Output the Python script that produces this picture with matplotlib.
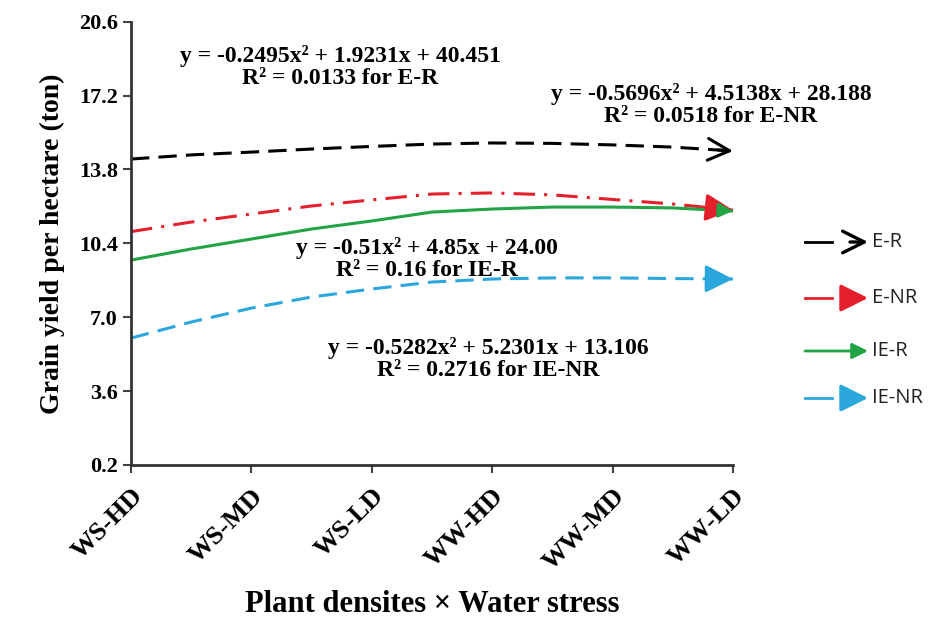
import numpy as np
import matplotlib
import matplotlib.pyplot as plt
from matplotlib.patches import ArrowStyle

matplotlib.use('agg')

# categories on the x axis
categories = ['WS-HD', 'WS-MD', 'WS-LD', 'WW-HD', 'WW-MD', 'WW-LD']
# trend curves every half category
x_pos = [0, 0.5, 1, 1.5, 2, 2.5, 3, 3.5, 4, 4.5, 5]
e_r = [14.28, 14.47, 14.60, 14.74, 14.86, 14.97, 15.02, 15.00, 14.93, 14.83, 14.65]
e_nr = [10.94, 11.38, 11.75, 12.12, 12.40, 12.67, 12.72, 12.63, 12.42, 12.21, 11.93]
ie_r = [9.63, 10.14, 10.60, 11.06, 11.43, 11.84, 11.98, 12.07, 12.07, 12.03, 11.89]
ie_nr = [6.04, 6.78, 7.42, 7.93, 8.30, 8.62, 8.76, 8.81, 8.81, 8.78, 8.76]
y_ticks = [0.2, 3.6, 7.0, 10.4, 13.8, 17.2, 20.6]

series_names = ['E-R', 'E-NR', 'IE-R', 'IE-NR']
equations = [
    'y = -0.2495x\u00b2 + 1.9231x + 40.451\nR\u00b2 = 0.0133 for E-R',
    'y = -0.5696x\u00b2 + 4.5138x + 28.188\nR\u00b2 = 0.0518 for E-NR',
    'y = -0.51x\u00b2 + 4.85x + 24.00\nR\u00b2 = 0.16 for IE-R',
    'y = -0.5282x\u00b2 + 5.2301x + 13.106\nR\u00b2 = 0.2716 for IE-NR',
]

W, H = 934, 619
SERIF = 'Liberation Serif'


def fpx(x, y):
    return (x / W, 1 - y / H)


fig = plt.figure(figsize=(W / 100, H / 100), dpi=100)
ax = fig.add_axes([131 / W, 154 / H, 602 / W, 443.3 / H])

styles = [
    dict(color='black', ls=(0, (6, 3)), head='->', ms=26),
    dict(color='#e3202b', ls=(0, (7, 3, 1, 3)), head='-|>', ms=28),
    dict(color='#22a346', ls='-', head='-|>', ms=14),
    dict(color='#2ba7dd', ls=(0, (6, 3)), head='-|>', ms=28),
]
data = [e_r, e_nr, ie_r, ie_nr]

for vals, st in zip(data, styles):
    x = np.array(x_pos)
    y = np.array(vals)
    ax.plot(x, y, color=st['color'], ls=st['ls'], lw=2.2,
            solid_capstyle='butt', clip_on=False)
    # arrow head at the end of the curve
    dx = x[-1] - x[-2]
    dy = y[-1] - y[-2]
    ax.annotate('', xy=(x[-1], y[-1]), xytext=(x[-1] - 0.25 * dx, y[-1] - 0.25 * dy),
                arrowprops=dict(arrowstyle=ArrowStyle(st['head'], head_length=0.6, head_width=0.3),
                                mutation_scale=st['ms'], color=st['color'],
                                lw=2.2, shrinkA=0, shrinkB=0), annotation_clip=False)

ax.set_xlim(0, 5)
ax.set_ylim(0.2, 20.6)
ax.set_yticks(y_ticks)
ax.set_yticklabels(['%.1f' % v for v in y_ticks], fontfamily=SERIF,
                   fontweight='bold', fontsize=16)
ax.set_xticks(range(len(categories)))
ax.set_xticklabels(categories, rotation=45, ha='right', rotation_mode='anchor',
                   fontfamily=SERIF, fontweight='bold', fontsize=19)
ax.tick_params(axis='both', direction='out', length=6, width=1.5, color='#444444')
ax.tick_params(axis='x', pad=8)
for s in ['top', 'right']:
    ax.spines[s].set_visible(False)
for s in ['left', 'bottom']:
    ax.spines[s].set_linewidth(2)
    ax.spines[s].set_color('#333333')

ax.set_ylabel('Grain yield per hectare (ton)', fontfamily=SERIF,
              fontweight='bold', fontsize=20, labelpad=10)
fig.text(*fpx(432, 604), 'Plant densites \u00d7 Water stress', fontfamily=SERIF,
         fontweight='bold', fontsize=22, ha='center', va='center')

# equation boxes
eq_pos = [(340, 67), (711, 105), (427, 259), (488, 359)]
for (px, py), txt in zip(eq_pos, equations):
    fig.text(*fpx(px, py), txt, fontfamily=SERIF, fontweight='bold', fontsize=17,
             ha='center', va='center', multialignment='center', linespacing=1.12)

# legend drawn by hand with arrows
leg_y = [242, 298, 351, 398]
for name, st, ly in zip(series_names, styles, leg_y):
    if name == 'IE-R':
        ax.annotate('', xy=fpx(868, ly), xytext=fpx(805, ly), xycoords='figure fraction',
                    arrowprops=dict(arrowstyle=ArrowStyle('-|>', head_length=0.6, head_width=0.3),
                                    mutation_scale=16, color=st['color'], lw=2,
                                    shrinkA=0, shrinkB=0), annotation_clip=False)
    else:
        fig.add_artist(plt.Line2D([805 / W, 832 / W], [1 - ly / H, 1 - ly / H],
                                  color=st['color'], lw=2))
        ax.annotate('', xy=fpx(868, ly), xytext=fpx(850, ly), xycoords='figure fraction',
                    arrowprops=dict(arrowstyle=ArrowStyle(st['head'], head_length=0.6, head_width=0.3),
                                    mutation_scale=st['ms'] * 1.0, color=st['color'], lw=2.4,
                                    shrinkA=0, shrinkB=0), annotation_clip=False)
    fig.text(*fpx(872, ly), name, fontfamily='Open Sans', fontsize=14.5,
             ha='left', va='center', color='#222222')

fig.savefig('out.png', dpi=100)
